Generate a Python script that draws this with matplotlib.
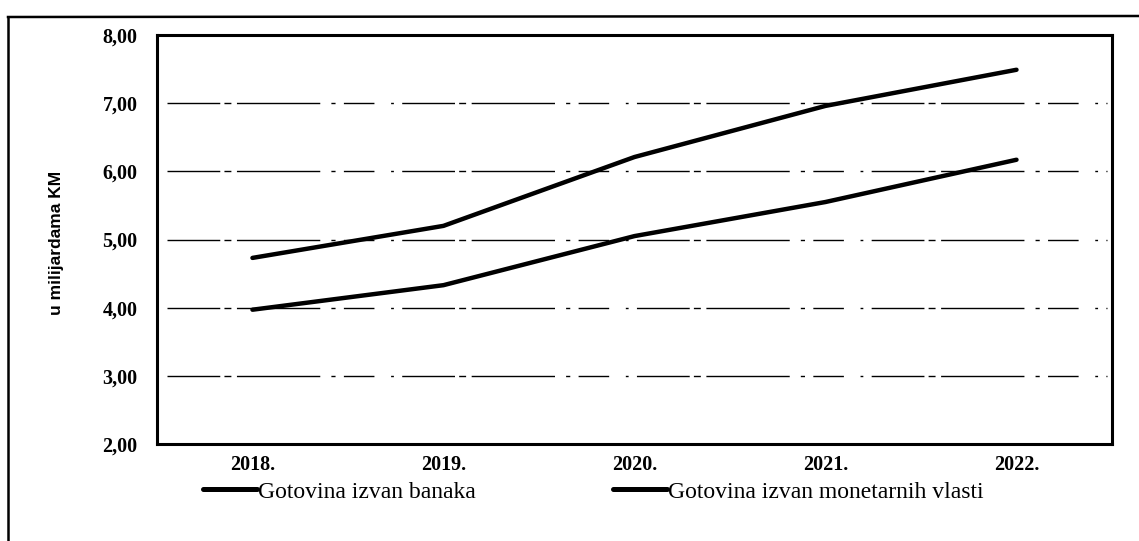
# gotovina izvan banaka / monetarnih vlasti, 2018-2022
import matplotlib.pyplot as plt
from matplotlib.lines import Line2D

godine = ['2018.', '2019.', '2020.', '2021.', '2022.']
izvan_banaka = [3.97, 4.33, 5.05, 5.55, 6.17]
izvan_monetarnih = [4.73, 5.20, 6.21, 6.96, 7.49]
y_oznake = ['2,00', '3,00', '4,00', '5,00', '6,00', '7,00', '8,00']

serif = ['Liberation Serif', 'DejaVu Serif']

fig = plt.figure(figsize=(11.39, 5.41), dpi=100)
ax = fig.add_axes([0.1378, 0.1793, 0.8385, 0.7560])

x = range(len(godine))
ax.plot(x, izvan_banaka, color='black', lw=3.2, solid_capstyle='round',
        label='Gotovina izvan banaka')
ax.plot(x, izvan_monetarnih, color='black', lw=3.2, solid_capstyle='round',
        label='Gotovina izvan monetarnih vlasti')

ax.set_xlim(-0.5, len(godine) - 0.5)
ax.set_ylim(2, 8)
ax.set_xticks(list(x))
ax.set_xticklabels(godine)
ax.set_yticks([2, 3, 4, 5, 6, 7, 8])
ax.set_yticklabels(y_oznake)
for lab in ax.get_xticklabels() + ax.get_yticklabels():
    lab.set_family(serif)
    lab.set_fontweight('bold')
    lab.set_fontsize(14.5)
ax.tick_params(axis='both', length=0)
ax.tick_params(axis='y', pad=14)
ax.tick_params(axis='x', pad=8)

# isprekidane linije mreze
for v in [3, 4, 5, 6, 7]:
    ax.axhline(v, xmin=0.01, xmax=0.995, color='black', lw=1.0,
               dashes=(38, 3, 5, 4, 60, 8, 3, 6, 22, 12, 2, 6), zorder=1)

for s in ax.spines.values():
    s.set_linewidth(2.2)

fig.text(57 / 1139, 1 - 243 / 541, 'u milijardama KM', rotation=90,
         ha='center', va='center', fontsize=12.5, fontweight='bold',
         family=['Liberation Sans Narrow', 'Liberation Sans', 'DejaVu Sans'])

leg = fig.legend(loc='center left', bbox_to_anchor=(186 / 1139, 1 - 492 / 541),
                 ncol=2, frameon=False, handlelength=2.3, handletextpad=0.05,
                 columnspacing=5.8, borderpad=0.2,
                 prop={'family': serif, 'size': 17})
for h in leg.get_lines():
    h.set_linewidth(3.6)

# okvir oko cijele slike (gore i lijevo)
fig.add_artist(Line2D([8 / 1139, 8 / 1139], [0, 1 - 17 / 541],
                      transform=fig.transFigure, color='black', lw=1.8))
fig.add_artist(Line2D([8 / 1139, 1], [1 - 17 / 541, 1 - 16 / 541],
                      transform=fig.transFigure, color='black', lw=1.8))

fig.savefig('out.png', dpi=100)
